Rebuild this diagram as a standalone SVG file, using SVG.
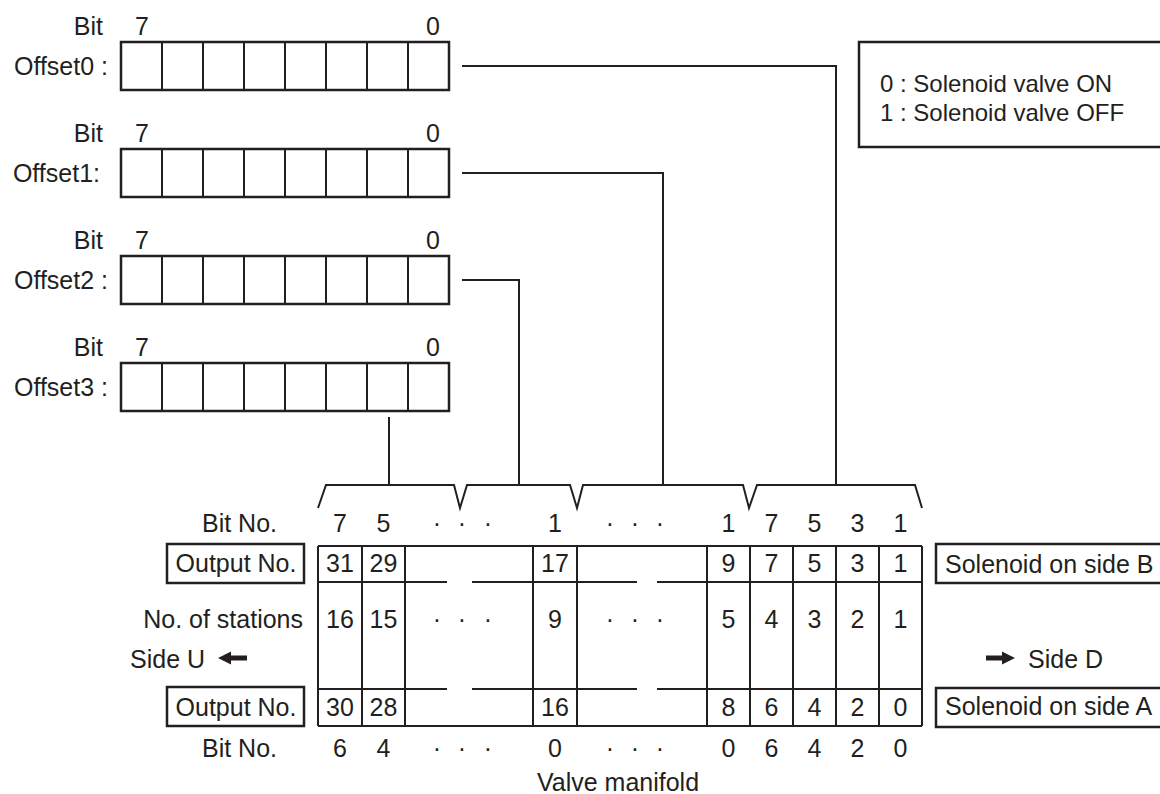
<svg xmlns="http://www.w3.org/2000/svg" xmlns:xlink="http://www.w3.org/1999/xlink" width="1160" height="794" viewBox="0 0 1160 794">
<style>
 text { font-family: "Liberation Sans", Arial, sans-serif; font-size: 25px; fill: #231f20; }
 .lg { font-size: 24px; }
 .ln { stroke: #231f20; stroke-width: 2; fill: none; }
 .reg { stroke: #231f20; stroke-width: 2.5; fill: #fff; }
 .box { stroke: #231f20; stroke-width: 2.5; fill: #fff; }
 .e { text-anchor: end; }
 .m { text-anchor: middle; }
 .arrow { fill: #231f20; }
</style>
<defs>
 <g id="reg">
  <rect x="121" y="0" width="328" height="48" class="reg"/>
  <path d="M162 0V48M203 0V48M244 0V48M285 0V48M326 0V48M367 0V48M408 0V48" class="ln"/>
 </g>
</defs>
<rect width="1160" height="794" fill="#fff"/>

<g id="offset0">
 <text x="103" y="35" class="e">Bit</text>
 <text x="142" y="35" class="m">7</text>
 <text x="433" y="35" class="m">0</text>
 <text x="108" y="75" class="e">Offset0 :</text>
 <use xlink:href="#reg" href="#reg" y="42"/>
</g>
<g id="offset1">
 <text x="103" y="142" class="e">Bit</text>
 <text x="142" y="142" class="m">7</text>
 <text x="433" y="142" class="m">0</text>
 <text x="100" y="182" class="e">Offset1:</text>
 <use xlink:href="#reg" href="#reg" y="149"/>
</g>
<g id="offset2">
 <text x="103" y="249" class="e">Bit</text>
 <text x="142" y="249" class="m">7</text>
 <text x="433" y="249" class="m">0</text>
 <text x="108" y="289" class="e">Offset2 :</text>
 <use xlink:href="#reg" href="#reg" y="256"/>
</g>
<g id="offset3">
 <text x="103" y="356" class="e">Bit</text>
 <text x="142" y="356" class="m">7</text>
 <text x="433" y="356" class="m">0</text>
 <text x="108" y="396" class="e">Offset3 :</text>
 <use xlink:href="#reg" href="#reg" y="363"/>
</g>

<g id="legend">
 <rect x="859" y="42" width="320" height="105" class="box"/>
 <text x="880" y="92" class="lg">0 : Solenoid valve ON</text>
 <text x="880" y="121" class="lg">1 : Solenoid valve OFF</text>
</g>

<g id="connectors">
 <path d="M462 66H836V485" class="ln"/>
 <path d="M462 173H663V485" class="ln"/>
 <path d="M462 280H519V485" class="ln"/>
 <path d="M389 417V485" class="ln"/>
 <path d="M318 508L326 485H454L460 508L467 485H570L577 508L583 485H743L749 508L757 485H915L922 508" class="ln"/>
</g>

<g id="bitno-top">
 <text x="277" y="532" class="e">Bit No.</text>
 <text y="532" class="m"><tspan x="340">7</tspan><tspan x="383.5">5</tspan><tspan x="437">·</tspan><tspan x="462">·</tspan><tspan x="488">·</tspan><tspan x="555">1</tspan><tspan x="610">·</tspan><tspan x="635">·</tspan><tspan x="660">·</tspan><tspan x="728.5">1</tspan><tspan x="771.5">7</tspan><tspan x="814.5">5</tspan><tspan x="857.5">3</tspan><tspan x="900.5">1</tspan></text>
</g>

<g id="label-output-b">
 <rect x="167" y="544" width="137" height="39" class="box"/>
 <text x="236" y="572" class="m">Output No.</text>
</g>
<g id="label-output-a">
 <rect x="167" y="687" width="137" height="39" class="box"/>
 <text x="236" y="716" class="m">Output No.</text>
</g>
<g id="label-stations">
 <text x="303" y="628" class="e">No. of stations</text>
</g>
<g id="side-u">
 <text x="130" y="668">Side U</text>
 <polygon class="arrow" points="218,658 231,651.5 231,655.5 247,655.5 247,660.5 231,660.5 231,664.5"/>
</g>
<g id="side-d">
 <polygon class="arrow" points="986,655.5 1002,655.5 1002,651.5 1015,658 1002,664.5 1002,660.5 986,660.5"/>
 <text x="1028" y="668">Side D</text>
</g>
<g id="solenoid-b">
 <rect x="936" y="544" width="240" height="39" class="box"/>
 <text x="945" y="573">Solenoid on side B</text>
</g>
<g id="solenoid-a">
 <rect x="936" y="688" width="240" height="39" class="box"/>
 <text x="945" y="715">Solenoid on side A</text>
</g>

<g id="manifold">
 <path class="ln" d="M318 546H922M318 726H922M318 582H447M472 582H637M657 582H922M318 689H447M472 689H637M657 689H922M318 546V726M362 546V726M405 546V726M533 546V726M577 546V726M707 546V726M750 546V726M793 546V726M836 546V726M879 546V726M922 546V726"/>
 <text y="572" class="m"><tspan x="340">31</tspan><tspan x="383.5">29</tspan><tspan x="555">17</tspan><tspan x="728.5">9</tspan><tspan x="771.5">7</tspan><tspan x="814.5">5</tspan><tspan x="857.5">3</tspan><tspan x="900.5">1</tspan></text>
 <text y="628" class="m"><tspan x="340">16</tspan><tspan x="383.5">15</tspan><tspan x="437">·</tspan><tspan x="462">·</tspan><tspan x="488">·</tspan><tspan x="555">9</tspan><tspan x="610">·</tspan><tspan x="635">·</tspan><tspan x="660">·</tspan><tspan x="728.5">5</tspan><tspan x="771.5">4</tspan><tspan x="814.5">3</tspan><tspan x="857.5">2</tspan><tspan x="900.5">1</tspan></text>
 <text y="716" class="m"><tspan x="340">30</tspan><tspan x="383.5">28</tspan><tspan x="555">16</tspan><tspan x="728.5">8</tspan><tspan x="771.5">6</tspan><tspan x="814.5">4</tspan><tspan x="857.5">2</tspan><tspan x="900.5">0</tspan></text>
 <text x="618" y="791" class="m">Valve manifold</text>
</g>

<g id="bitno-bottom">
 <text x="277" y="757" class="e">Bit No.</text>
 <text y="757" class="m"><tspan x="340">6</tspan><tspan x="383.5">4</tspan><tspan x="437">·</tspan><tspan x="462">·</tspan><tspan x="488">·</tspan><tspan x="555">0</tspan><tspan x="610">·</tspan><tspan x="635">·</tspan><tspan x="660">·</tspan><tspan x="728.5">0</tspan><tspan x="771.5">6</tspan><tspan x="814.5">4</tspan><tspan x="857.5">2</tspan><tspan x="900.5">0</tspan></text>
</g>
</svg>
